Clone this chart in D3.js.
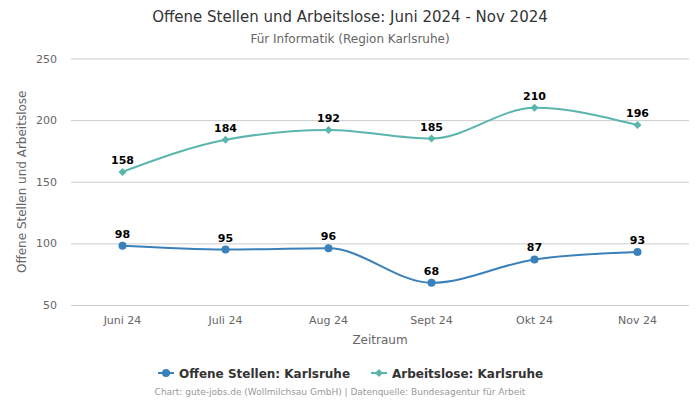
<!DOCTYPE html>
<html><head><meta charset="utf-8">
<script src="https://cdn.jsdelivr.net/npm/d3@7"></script>
<style>body{margin:0;background:#fff;} svg{display:block;font-family:"DejaVu Sans",sans-serif;}</style>
</head><body><svg id="c" width="700" height="400"></svg>
<script>
const categories = ["Juni 24","Juli 24","Aug 24","Sept 24","Okt 24","Nov 24"];
const offeneStellen = [98,95,96,68,87,93];
const arbeitslose = [158,184,192,185,210,196];
const yTicks = [50,100,150,200,250];
const seriesNames = ["Offene Stellen: Karlsruhe","Arbeitslose: Karlsruhe"];
const colors = ["#3a80ba","#5bb5ad"];

const svg = d3.select("#c");
const L=71,R=689,T=58.5,B=305;
const x = d3.scaleBand().domain(categories).range([L,R]);
const y = d3.scaleLinear().domain([50,250]).range([B,T]);
const diamond = "M0,-4L4,0L0,4L-4,0Z";

svg.append("text").attr("x",350).attr("y",22).attr("text-anchor","middle").attr("font-size",15).attr("fill","#333").text("Offene Stellen und Arbeitslose: Juni 2024 - Nov 2024");
svg.append("text").attr("x",350).attr("y",43).attr("text-anchor","middle").attr("font-size",12).attr("fill","#666").text("Für Informatik (Region Karlsruhe)");

const gy = svg.append("g").attr("transform",`translate(${L},0)`)
  .call(d3.axisLeft(y).tickValues(yTicks).tickSize(-(R-L)).tickPadding(14));
gy.select(".domain").remove();
gy.selectAll("line").attr("stroke","#ccc");
gy.selectAll("text").attr("font-size",11).attr("fill","#666").attr("font-family","DejaVu Sans");

const gx = svg.append("g").attr("transform",`translate(0,${B})`)
  .call(d3.axisBottom(x).tickSize(0).tickPadding(11));
gx.select(".domain").remove();
gx.selectAll("text").attr("font-size",11).attr("fill","#666").attr("font-family","DejaVu Sans");

svg.append("text").attr("x",(L+R)/2).attr("y",344).attr("text-anchor","middle").attr("font-size",12).attr("fill","#666").text("Zeitraum");
svg.append("text").attr("transform",`translate(26,${(T+B)/2}) rotate(-90)`).attr("text-anchor","middle").attr("font-size",12).attr("fill","#666").text("Offene Stellen und Arbeitslose");

const cx = c => x(c)+x.bandwidth()/2;
const line = d3.line().x((d,i)=>cx(categories[i])).y(d=>y(d)).curve(d3.curveMonotoneX);

[offeneStellen, arbeitslose].forEach((vals,si)=>{
  const g = svg.append("g");
  g.append("path").attr("d",line(vals)).attr("fill","none").attr("stroke",colors[si]).attr("stroke-width",2);
  vals.forEach((v,i)=>{
    const px=cx(categories[i]), py=y(v);
    if(si===0) g.append("circle").attr("cx",px).attr("cy",py).attr("r",4).attr("fill",colors[si]);
    else g.append("path").attr("d",diamond).attr("transform",`translate(${px},${py})`).attr("fill",colors[si]);
    g.append("text").attr("x",px).attr("y",py-8).attr("text-anchor","middle").attr("font-size",11).attr("font-weight","bold").attr("fill","#000").text(v);
  });
});

// legend
const lg = svg.append("g");
const items = [{x:158,name:seriesNames[0]},{x:371,name:seriesNames[1]}];
items.forEach((it,i)=>{
  lg.append("line").attr("x1",it.x).attr("x2",it.x+16).attr("y1",373).attr("y2",373).attr("stroke",colors[i]).attr("stroke-width",2);
  if(i===0) lg.append("circle").attr("cx",it.x+8).attr("cy",373).attr("r",4).attr("fill",colors[i]);
  else lg.append("path").attr("d",diamond).attr("transform",`translate(${it.x+8},373)`).attr("fill",colors[i]);
  lg.append("text").attr("x",it.x+21).attr("y",377.5).attr("font-size",12).attr("font-weight","bold").attr("fill","#333").text(it.name);
});
svg.append("text").attr("x",340).attr("y",395).attr("text-anchor","middle").attr("font-size",9).attr("fill","#999").text("Chart: gute-jobs.de (Wollmilchsau GmbH) | Datenquelle: Bundesagentur für Arbeit");
</script></body></html>
